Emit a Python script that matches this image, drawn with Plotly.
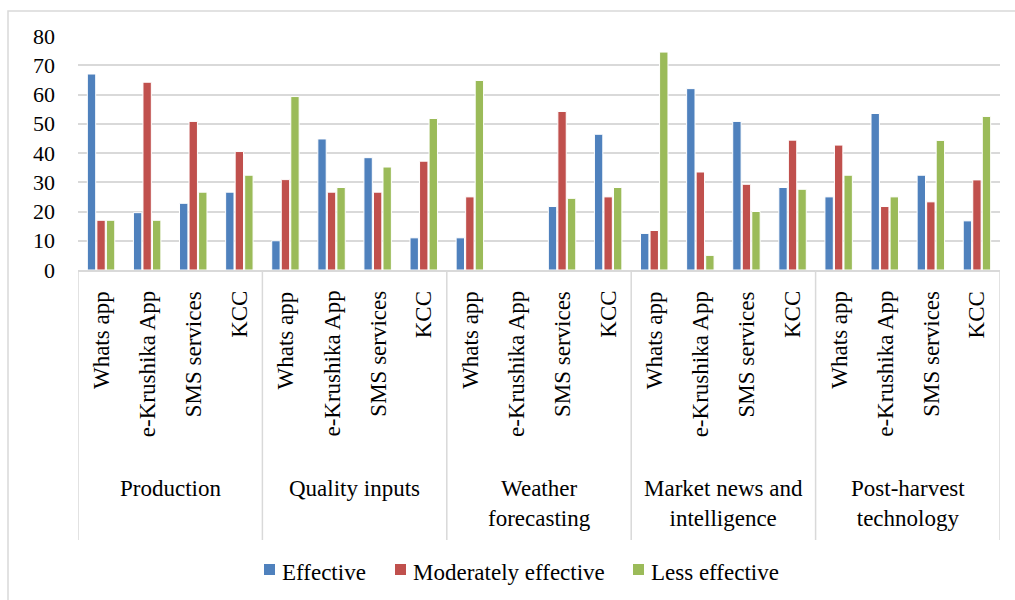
import plotly.graph_objects as go

groups = ["Production", "Quality inputs", "Weather<br>forecasting",
          "Market news and<br>intelligence", "Post-harvest<br>technology"]
subs = ["Whats app", "e-Krushika App", "SMS services", "KCC"]

effective = [67.0, 19.6, 22.8, 26.6,
             10.0, 44.8, 38.4, 11.0,
             11.0, 0.0, 21.7, 46.4,
             12.5, 62.0, 50.8, 28.2,
             25.0, 53.5, 32.4, 16.8]
moderate = [17.0, 64.2, 50.8, 40.5,
            30.9, 26.6, 26.6, 37.2,
            25.0, 0.0, 54.2, 25.0,
            13.5, 33.5, 29.3, 44.4,
            42.7, 21.7, 23.3, 30.8]
less = [17.0, 17.0, 26.6, 32.4,
        59.3, 28.2, 35.2, 51.8,
        64.8, 0.0, 24.5, 28.2,
        74.5, 5.0, 20.0, 27.6,
        32.4, 25.0, 44.3, 52.5]

y_ticks = [0, 10, 20, 30, 40, 50, 60, 70, 80]
series_names = ["Effective", "Moderately effective", "Less effective"]
colors = ["#4F81BD", "#C0504D", "#9BBB59"]

FONT = "Liberation Serif"
GRID = "#d9d9d9"
L, R, T, B = 78, 15, 36, 330
W, H = 1015, 600
pw, ph = W - L - R, H - T - B
n_sub = len(subs)
n_cat = len(groups) * n_sub


def px_x(px):
    return (px - L) / pw


def px_y(py):
    return (H - B - py) / ph


positions = list(range(n_cat))
x_inner = [s for _ in groups for s in subs]

fig = go.Figure()
for name, vals, col in zip(series_names, [effective, moderate, less], colors):
    fig.add_trace(go.Bar(
        x=positions, y=vals, name=name, showlegend=False,
        marker=dict(color=col, line=dict(color="white", width=1)),
    ))

annotations = []
# y tick labels
for v in y_ticks:
    annotations.append(dict(x=px_x(57), xref="paper", y=v, yref="y",
                            xanchor="right", yanchor="middle", showarrow=False,
                            text=str(v), font=dict(family=FONT, size=22)))
# sub-category labels (rotated)
for pos, lab in zip(positions, x_inner):
    annotations.append(dict(x=pos, xref="x", y=px_y(289), yref="paper",
                            xanchor="center", yanchor="top", textangle=-90,
                            showarrow=False, text=lab,
                            font=dict(family=FONT, size=23)))
# group labels
for g, lab in enumerate(groups):
    annotations.append(dict(x=g * n_sub + (n_sub - 1) / 2, xref="x",
                            y=px_y(474), yref="paper", xanchor="center",
                            yanchor="top", showarrow=False, text=lab,
                            font=dict(family=FONT, size=23)))

# legend (text as annotations, colour keys as small squares)
legend_text_x = [280, 411, 649]
shapes = []
for name, col, tx in zip(series_names, colors, legend_text_x):
    annotations.append(dict(x=px_x(tx), xref="paper", y=px_y(572), yref="paper",
                            xanchor="left", yanchor="middle", showarrow=False,
                            text=name, font=dict(family=FONT, size=23)))
    shapes.append(dict(type="rect", xref="paper", yref="paper",
                       x0=px_x(tx - 16), x1=px_x(tx - 5),
                       y0=px_y(575), y1=px_y(564),
                       fillcolor=col, line=dict(width=0)))

# group dividers below the axis
for g in range(len(groups) + 1):
    xb = g * n_sub - 0.5
    shapes.append(dict(type="line", xref="x", yref="paper", x0=xb, x1=xb,
                       y0=0, y1=px_y(540), line=dict(color=GRID, width=1.5)))

# outer chart border
shapes.append(dict(type="rect", xref="paper", yref="paper",
                   x0=px_x(8), x1=px_x(1030), y0=px_y(11), y1=px_y(620),
                   line=dict(color=GRID, width=1.5), fillcolor="rgba(0,0,0,0)",
                   layer="below"))

fig.update_layout(
    width=W, height=H,
    margin=dict(l=L, r=R, t=T, b=B),
    paper_bgcolor="white", plot_bgcolor="white",
    font=dict(family=FONT, size=22, color="black"),
    barmode="group", bargap=0.38, bargroupgap=0.12,
    showlegend=False,
    annotations=annotations,
    shapes=shapes,
)
fig.update_xaxes(range=[-0.5, n_cat - 0.5], showticklabels=False,
                 showline=True, linecolor=GRID, linewidth=1.5,
                 ticks="", showgrid=False, zeroline=False)
fig.update_yaxes(range=[0, 80], tickvals=y_ticks, showticklabels=False,
                 showgrid=True, gridcolor=GRID, gridwidth=1.5,
                 zeroline=False, showline=False, ticks="")

fig.write_html("out.html")
